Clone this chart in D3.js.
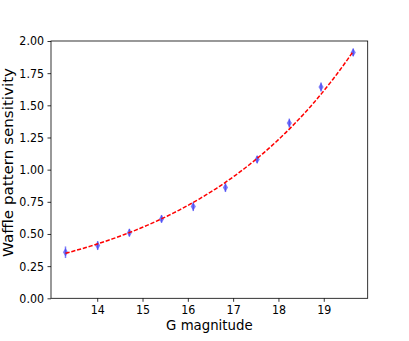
<!DOCTYPE html>
<html>
<head>
<meta charset="utf-8">
<script src="https://cdn.jsdelivr.net/npm/d3@7"></script>
<style>
body { margin: 0; background: #fff; }
svg { display: block; font-family: "DejaVu Sans", sans-serif; }
</style>
</head>
<body>
<div id="chart"></div>
<script>
// measured points
var gmag = [13.30, 14.01, 14.71, 15.42, 16.12, 16.83, 17.53, 18.24, 18.94, 19.65];
var sens = [0.358, 0.410, 0.510, 0.617, 0.713, 0.861, 1.079, 1.362, 1.642, 1.911];
var sensErr = [0.045, 0.035, 0.030, 0.030, 0.035, 0.035, 0.030, 0.035, 0.035, 0.030];

// exponential fit parameters  y = fitA * exp(fitB * (x - fitX0))
var fitA = 0.35, fitB = 0.268, fitX0 = 13.3;

var yTicks = [0, 0.25, 0.5, 0.75, 1.0, 1.25, 1.5, 1.75, 2.0];
var xTicks = [14, 15, 16, 17, 18, 19];

var width = 409, height = 341;
var margin = {left: 51, right: 41.3, top: 41, bottom: 42.7};
// the picture is squeezed a bit more horizontally than vertically
var sx = 0.9;

var svg = d3.select("#chart").append("svg")
	.attr("width", width)
	.attr("height", height);

var x = d3.scaleLinear().domain([12.98, 19.97]).range([margin.left, width - margin.right]);
var y = d3.scaleLinear().domain([0, 2]).range([height - margin.bottom, margin.top]);

// fit curve
var xs = d3.range(gmag[0], gmag[gmag.length - 1] + 0.001, 0.05);
var line = d3.line()
	.x(function(d) { return x(d); })
	.y(function(d) { return y(fitA * Math.exp(fitB * (d - fitX0))); });

// error bars
svg.selectAll(".err").data(gmag).enter().append("line")
	.attr("class", "err")
	.attr("x1", function(d) { return x(d); })
	.attr("x2", function(d) { return x(d); })
	.attr("y1", function(d, i) { return y(sens[i] - sensErr[i]); })
	.attr("y2", function(d, i) { return y(sens[i] + sensErr[i]); })
	.attr("stroke", "#3b3bf5")
	.attr("stroke-opacity", 0.65)
	.attr("stroke-width", 1.5);

// thin diamond markers
svg.selectAll(".pt").data(gmag).enter().append("path")
	.attr("class", "pt")
	.attr("d", "M0,-4.2L2.6,0L0,4.2L-2.6,0Z")
	.attr("transform", function(d, i) { return "translate(" + x(d) + "," + y(sens[i]) + ")"; })
	.attr("fill", "#3b3bf5")
	.attr("fill-opacity", 0.65)
	.attr("stroke", "none");

svg.append("path")
	.datum(xs)
	.attr("d", line)
	.attr("fill", "none")
	.attr("stroke", "#ff0000")
	.attr("stroke-width", 1.5)
	.attr("stroke-dasharray", "4.2,1.8");

// axes
var yAxis = d3.axisLeft(y).tickValues(yTicks).tickSize(3.5).tickPadding(3)
	.tickFormat(d3.format(".2f"));
var xAxis = d3.axisBottom(x).tickValues(xTicks).tickSize(3.5).tickPadding(3.2)
	.tickFormat(d3.format("d"));

var gy = svg.append("g").attr("transform", "translate(" + margin.left + ",0)").call(yAxis);
var gx = svg.append("g").attr("transform", "translate(0," + (height - margin.bottom) + ")").call(xAxis);
[gx, gy].forEach(function(g) {
	g.select(".domain").remove();
	g.selectAll("line").attr("stroke", "#000").attr("stroke-width", 0.8);
	g.selectAll("text").attr("fill", "#000").attr("font-size", 12.3)
		.attr("font-family", "DejaVu Sans");
});
gx.selectAll("text").attr("transform", "scale(" + sx + ",1)");
gy.selectAll("text").attr("x", 0)
	.attr("transform", "translate(-7,0) scale(" + sx + ",1)");

// frame
svg.append("rect")
	.attr("x", margin.left)
	.attr("y", margin.top)
	.attr("width", width - margin.left - margin.right)
	.attr("height", height - margin.top - margin.bottom)
	.attr("fill", "none")
	.attr("stroke", "#000")
	.attr("stroke-width", 0.8);

svg.append("text")
	.attr("transform", "translate(" + ((margin.left + width - margin.right) / 2) + ",330) scale(" + sx + ",1)")
	.attr("text-anchor", "middle")
	.attr("font-size", 14.8)
	.text("G magnitude");

svg.append("text")
	.attr("transform", "translate(13.3,162.5) scale(" + sx + ",1) rotate(-90)")
	.attr("text-anchor", "middle")
	.attr("font-size", 15.1)
	.text("Waffle pattern sensitivity");
</script>
</body>
</html>
